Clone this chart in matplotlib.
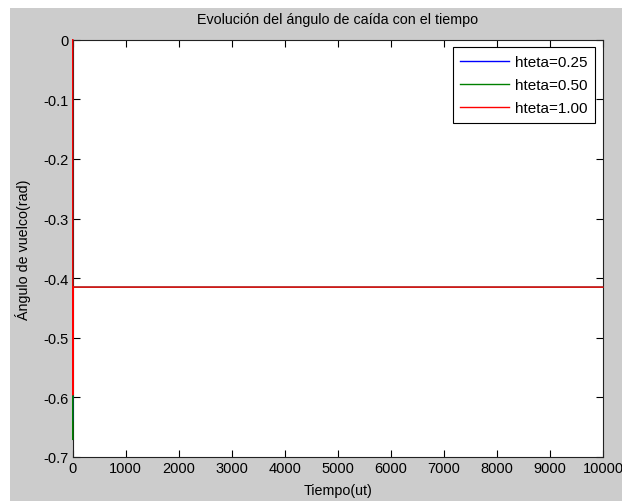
import matplotlib
matplotlib.use('Agg')
import matplotlib.pyplot as plt
from matplotlib.patches import Rectangle

plt.rcParams['font.family'] = ['Liberation Sans', 'DejaVu Sans']
plt.rcParams['font.size'] = 10

# series (time in ut, angle in rad) - fast initial transient, then flat
time = [0, 2, 4, 10000]
angle_025 = [0, -0.64, -0.415, -0.415]
angle_050 = [0, -0.671, -0.415, -0.415]
angle_100 = [0, -0.596, -0.415, -0.415]

labels = ['hteta=0.25', 'hteta=0.50', 'hteta=1.00']
colors = ['#0000ff', '#008000', '#ff0000']
widths = [0.6, 0.7, 1.0]  # lower series thinner so the red one covers them

xticks = list(range(0, 10001, 1000))
yticks = [0, -0.1, -0.2, -0.3, -0.4, -0.5, -0.6, -0.7]

fig = plt.figure(figsize=(6.22, 5.02), dpi=100)
fig.patch.set_facecolor('#cccccc')
# white strips at top and left of the screenshot
fig.patches.append(Rectangle((0, 1 - 9 / 502), 1, 9 / 502, transform=fig.transFigure,
                             facecolor='white', edgecolor='none', zorder=0))
fig.patches.append(Rectangle((0, 0), 10 / 622, 1, transform=fig.transFigure,
                             facecolor='white', edgecolor='none', zorder=0))

ax = fig.add_axes([72.7 / 622, 1 - 458 / 502, (603 - 72.7) / 622, (458 - 40.7) / 502])
ax.set_facecolor('white')

for y, lab, c, w in zip([angle_025, angle_050, angle_100], labels, colors, widths):
    ax.plot(time, y, color=c, linewidth=w, label=lab, clip_on=False, zorder=3)

ax.set_xlim(0, 10000)
ax.set_ylim(-0.7, 0)
ax.set_xticks(xticks)
ax.set_xticklabels([str(v) for v in xticks])
ax.set_yticks(yticks)
ax.set_yticklabels(['0', '-0.1', '-0.2', '-0.3', '-0.4', '-0.5', '-0.6', '-0.7'])
ax.tick_params(direction='in', length=5, width=0.8, top=True, right=True,
               labelsize=10.5, colors='black', pad=3)
for s in ax.spines.values():
    s.set_linewidth(0.8)
    s.set_color('#222222')

ax.set_title('Evolución del ángulo de caída con el tiempo', fontsize=10.3, pad=12)
ax.set_xlabel('Tiempo(ut)', fontsize=10.3, labelpad=6)
ax.set_ylabel('Ángulo de vuelco(rad)', fontsize=10.3, labelpad=9)

leg = ax.legend(loc='upper right', fontsize=11, frameon=True, fancybox=False,
                edgecolor='black', framealpha=1, handlelength=3.2,
                borderaxespad=0.5, labelspacing=0.6, borderpad=0.5,
                handletextpad=0.4)
leg.get_frame().set_linewidth(0.8)
for ln in leg.get_lines():
    ln.set_linewidth(1.0)

fig.savefig('out.png', dpi=100, facecolor=fig.get_facecolor())
